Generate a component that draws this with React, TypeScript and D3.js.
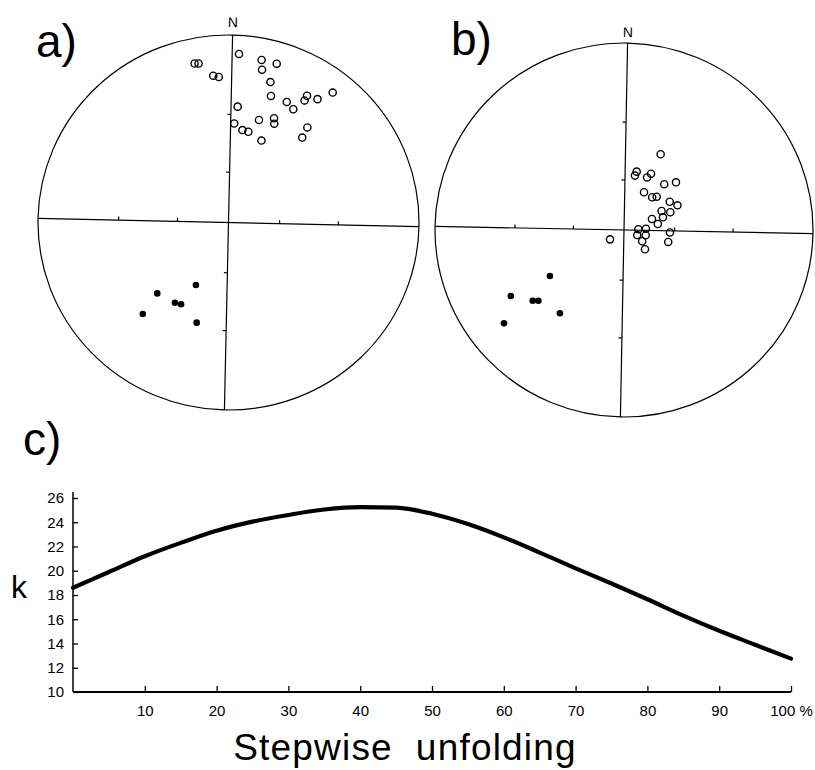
import React, { useEffect, useRef } from 'react';
import * as d3 from 'd3';

// ---------- DATA ----------
// Stereonet points, net coordinates [east, north] in units of the primitive radius
const netAOpen: [number, number][] = [
  [-0.178, 0.848], [-0.157, 0.848], [-0.080, 0.783], [-0.051, 0.776], [0.055, 0.899],
  [0.174, 0.867], [0.176, 0.815], [0.253, 0.847], [0.220, 0.749], [0.223, 0.675],
  [0.306, 0.643], [0.340, 0.604], [0.412, 0.676], [0.399, 0.651], [0.467, 0.658],
  [0.547, 0.693], [0.048, 0.618], [0.030, 0.528], [0.073, 0.493], [0.104, 0.484],
  [0.160, 0.547], [0.239, 0.556], [0.240, 0.527], [0.173, 0.437], [0.414, 0.507],
  [0.387, 0.453],
];
const netAFilled: [number, number][] = [
  [-0.171, -0.333], [-0.374, -0.378], [-0.281, -0.428], [-0.249, -0.436],
  [-0.450, -0.488], [-0.167, -0.534],
];
const netBOpen: [number, number][] = [
  [0.194, 0.405], [0.067, 0.312], [0.058, 0.291], [0.143, 0.301], [0.122, 0.281],
  [0.213, 0.245], [0.275, 0.255], [0.106, 0.202], [0.149, 0.175], [0.173, 0.178],
  [0.242, 0.151], [0.283, 0.132], [0.199, 0.102], [0.245, 0.095], [0.206, 0.068],
  [0.148, 0.059], [0.179, 0.032], [0.076, 0.004], [0.116, 0.007], [0.070, -0.027],
  [0.115, -0.028], [0.096, -0.060], [0.111, -0.103], [0.243, -0.013], [0.234, -0.064],
  [-0.074, -0.050],
];
const netBFilled: [number, number][] = [
  [-0.392, -0.246], [-0.599, -0.353], [-0.483, -0.378], [-0.453, -0.378],
  [-0.339, -0.445], [-0.635, -0.499],
];
// stereographic radii of 60° and 30° inclination marks
const netTickRadii = [0.268, 0.577];

// Fold test curve
const unfoldingPct = [0, 5, 10, 15, 20, 25, 30, 35, 40, 45, 50, 55, 60, 65, 70, 75, 80, 85, 90, 95, 100];
const kValues = [18.6, 19.9, 21.2, 22.3, 23.3, 24.05, 24.6, 25.05, 25.25, 25.2, 24.7, 23.85, 22.75, 21.5, 20.2, 18.95, 17.65, 16.3, 15.05, 13.9, 12.75];
const kTicks = [10, 12, 14, 16, 18, 20, 22, 24, 26];
const pctTicks = [10, 20, 30, 40, 50, 60, 70, 80, 90, 100];

// ---------- LAYOUT ----------
const W = 815, H = 770;
const FONT = '"Liberation Sans", Arial, Helvetica, sans-serif';

type NetProps = {
  cx: number; cy: number; rx: number; ry: number; rot: number;
  open: [number, number][]; filled: [number, number][]; nGap: number;
};

function Net({ cx, cy, rx, ry, rot, open, filled, nGap }: NetProps) {
  const sx = d3.scaleLinear().domain([-1, 1]).range([cx - rx, cx + rx]);
  const sy = d3.scaleLinear().domain([-1, 1]).range([cy + ry, cy - ry]);
  const sw = 1.2;
  const ticks: JSX.Element[] = [];
  netTickRadii.forEach((r) => {
    [-1, 1].forEach((s) => {
      ticks.push(<line key={`v${r}${s}`} x1={cx - 3.5} x2={cx} y1={sy(s * r)} y2={sy(s * r)} stroke="#000" strokeWidth={1.2} />);
      ticks.push(<line key={`h${r}${s}`} x1={sx(s * r)} x2={sx(s * r)} y1={cy - 3.5} y2={cy} stroke="#000" strokeWidth={1.2} />);
    });
  });
  return (
    <g>
      <g transform={`rotate(${rot} ${cx} ${cy})`}>
        <ellipse cx={cx} cy={cy} rx={rx} ry={ry} fill="none" stroke="#000" strokeWidth={sw} />
        <line x1={sx(-1)} x2={sx(1)} y1={cy} y2={cy} stroke="#000" strokeWidth={sw} />
        <line x1={cx} x2={cx} y1={sy(1)} y2={sy(-1)} stroke="#000" strokeWidth={sw} />
        {ticks}
        <text x={cx} y={sy(1) - nGap} textAnchor="middle" fontFamily={FONT} fontSize={14}>N</text>
      </g>
      {open.map(([e, n], i) => (
        <circle key={`o${i}`} cx={sx(e)} cy={sy(n)} r={3.6} fill="none" stroke="#000" strokeWidth={1.4} />
      ))}
      {filled.map(([e, n], i) => (
        <circle key={`f${i}`} cx={sx(e)} cy={sy(n)} r={3.3} fill="#000" />
      ))}
    </g>
  );
}

export default function App() {
  const xAxisRef = useRef<SVGGElement>(null);
  const yAxisRef = useRef<SVGGElement>(null);

  const x = d3.scaleLinear().domain([0, 100]).range([73, 791]);
  const y = d3.scaleLinear().domain([10, 26]).range([692, 498]);

  const line = d3.line<number>()
    .x((_, i) => x(unfoldingPct[i]))
    .y((d) => y(d))
    .curve(d3.curveMonotoneX);

  useEffect(() => {
    if (yAxisRef.current) {
      const g = d3.select(yAxisRef.current);
      g.selectAll('*').remove();
      g.call(
        d3.axisLeft(y).tickValues(kTicks).tickSizeInner(-5).tickSizeOuter(0).tickPadding(9)
          .tickFormat((d) => String(d))
      );
      g.select('.domain').remove();
      g.selectAll('.tick line').attr('stroke', '#000').attr('stroke-width', 1.3);
      g.selectAll('.tick text').attr('font-size', 15).attr('font-family', FONT).attr('fill', '#000');
    }
    if (xAxisRef.current) {
      const g = d3.select(xAxisRef.current);
      g.selectAll('*').remove();
      g.call(
        d3.axisBottom(x).tickValues(pctTicks).tickSizeInner(-6).tickSizeOuter(0).tickPadding(13)
          .tickFormat((d) => (d === 100 ? '100 %' : String(d)))
      );
      g.select('.domain').remove();
      g.selectAll('.tick line').attr('stroke', '#000').attr('stroke-width', 1.3);
      g.selectAll('.tick text').attr('font-size', 15).attr('font-family', FONT).attr('fill', '#000');
    }
  }, []);

  return (
    <svg width={W} height={H} viewBox={`0 0 ${W} ${H}`}
      style={{ position: 'absolute', left: 0, top: 0, background: '#fff' }}>
      <rect x={0} y={0} width={W} height={H} fill="#fff" />

      {/* panel labels */}
      <text x={36} y={57} fontFamily={FONT} fontSize={46}>a)</text>
      <text x={451} y={55} fontFamily={FONT} fontSize={46}>b)</text>
      <text x={23} y={455} fontFamily={FONT} fontSize={46}>c)</text>

      <Net cx={228.5} cy={222.5} rx={190.5} ry={187.5} rot={1.25} open={netAOpen} filled={netAFilled} nGap={8} />
      <Net cx={624} cy={230} rx={189} ry={187} rot={1.1} open={netBOpen} filled={netBFilled} nGap={6} />

      {/* panel c */}
      <line x1={x(0)} x2={x(0)} y1={y(10)} y2={y(26.5)} stroke="#000" strokeWidth={1.5} />
      <line x1={x(0)} x2={x(100)} y1={y(10)} y2={y(10)} stroke="#000" strokeWidth={1.8} />
      <g ref={yAxisRef} transform={`translate(${x(0)},0)`} />
      <g ref={xAxisRef} transform={`translate(0,${y(10)})`} />
      <path d={line(kValues) || ''} fill="none" stroke="#000" strokeWidth={4.2} strokeLinecap="round" strokeLinejoin="round" />

      <text x={11} y={598} fontFamily={FONT} fontSize={32}>k</text>
      <text x={405} y={760} textAnchor="middle" fontFamily={FONT} fontSize={37} letterSpacing={1.2}
        style={{ whiteSpace: 'pre' }}>{'Stepwise  unfolding'}</text>
    </svg>
  );
}
